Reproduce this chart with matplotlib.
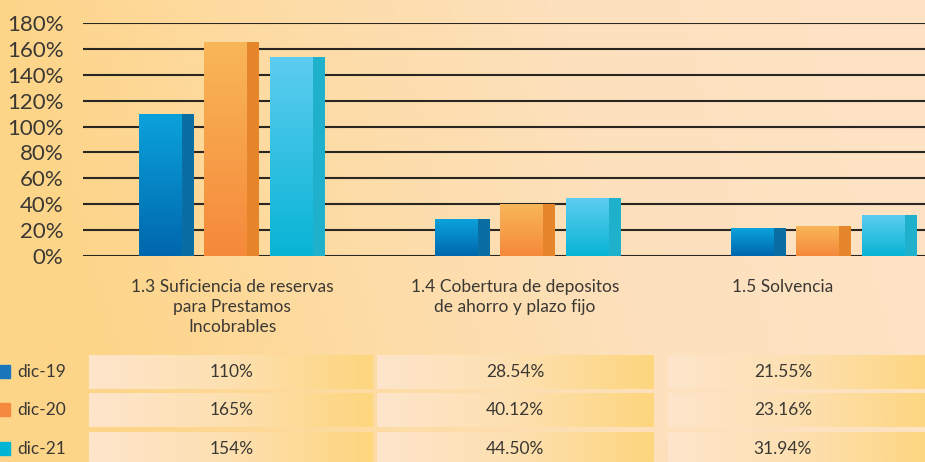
import matplotlib
matplotlib.use('Agg')
import matplotlib.pyplot as plt
import numpy as np
from matplotlib.colors import LinearSegmentedColormap

# ── Data ──────────────────────────────────────────────────────────────────────
CATEGORIES = ["1.3 Suficiencia de reservas\npara Prestamos\nIncobrables",
              "1.4 Cobertura de depositos\nde ahorro y plazo fijo",
              "1.5 Solvencia"]
SERIES = ["dic-19", "dic-20", "dic-21"]
DIC19 = [110.0, 28.54, 21.55]
DIC20 = [165.0, 40.12, 23.16]
DIC21 = [154.0, 44.50, 31.94]
TABLE_TXT = [["110%", "28.54%", "21.55%"],
             ["165%", "40.12%", "23.16%"],
             ["154%", "44.50%", "31.94%"]]
YTICKS = list(range(0, 181, 20))

# ── Styles ────────────────────────────────────────────────────────────────────
FONT = ['Lato', 'DejaVu Sans']
TXT = '#3b3834'
FRONT_TOP = ['#0ba2dc', '#f9b658', '#5dcdf0']
FRONT_BOT = ['#0067ad', '#f5893b', '#08b4d5']
SIDE = ['#0b6ea3', '#e5862b', '#1fb0cc']
LEGEND_COL = ['#1b75bb', '#f58a3f', '#00b5d4']

W, H = 925, 462
fig = plt.figure(figsize=(W / 100, H / 100), dpi=100)

# background + table layer, pixel coordinates
bg = fig.add_axes([0, 0, 1, 1], zorder=0)
bg.set_xlim(0, W)
bg.set_ylim(H, 0)
bg.axis('off')

yy, xx = np.mgrid[0:1:200j, 0:1:300j]
t = np.clip(1.1 * xx - 0.15 * yy, 0, 1)
bg_cmap = LinearSegmentedColormap.from_list('bg', ['#fdd589', '#fddca6', '#fde1bd', '#fde3c4'])
bg.imshow(t, extent=(0, W, H, 0), cmap=bg_cmap, aspect='auto', zorder=0)

# ── Bars ──────────────────────────────────────────────────────────────────────
ax = fig.add_axes([83 / W, (H - 256) / H, (W - 83) / W, 233 / H], zorder=1)
ax.patch.set_alpha(0)
ax.set_xlim(-0.189, 2.655)
ax.set_ylim(0, 180)

x = np.arange(len(CATEGORIES))
front_w = 0.145
side_w = 0.041
offsets = [0.0, 0.2196, 0.4426]

for i, vals in enumerate([DIC19, DIC20, DIC21]):
    bars = ax.bar(x + offsets[i], vals, width=front_w, align='edge',
                  color=FRONT_BOT[i], linewidth=0, zorder=3)
    ax.bar(x + offsets[i] + front_w, vals, width=side_w, align='edge',
           color=SIDE[i], linewidth=0, zorder=3)
    cmap = LinearSegmentedColormap.from_list(f'b{i}', [FRONT_BOT[i], FRONT_TOP[i]])
    grad = np.linspace(0, 1, 100).reshape(-1, 1)
    for b in bars:
        im = ax.imshow(grad, extent=(b.get_x(), b.get_x() + b.get_width(), 0, b.get_height()),
                       origin='lower', cmap=cmap, aspect='auto', zorder=3.5)
        im.set_clip_path(b)

ax.set_yticks(YTICKS)
ax.set_yticklabels([f"{v}%" for v in YTICKS], fontsize=16, color=TXT, family=FONT)
ax.tick_params(axis='y', length=0, pad=14)
ax.set_xticks([])
ax.grid(axis='y', color='#2a2622', linewidth=1.5, zorder=1)
for s in ax.spines.values():
    s.set_visible(False)

# ── Category labels ───────────────────────────────────────────────────────────
col_cx = [232, 515, 783]
for cx, lab in zip(col_cx, CATEGORIES):
    bg.text(cx, 279, lab, ha='center', va='top', fontsize=12.5, color=TXT,
            family=FONT, linespacing=1.3)

# ── Table ─────────────────────────────────────────────────────────────────────
col_x = [(89, 373), (377, 654), (668, 935)]
row_y = [(355, 389), (393, 427), (432, 466)]
cell_cmap = LinearSegmentedColormap.from_list('cell', ['#fde5cb', '#fde0b0', '#fdd67e'])
hgrad = np.linspace(0, 1, 100).reshape(1, -1)
for r, (y0, y1) in enumerate(row_y):
    yc = (y0 + y1) / 2
    bg.add_patch(plt.Rectangle((0, yc - 7), 10, 13, color=LEGEND_COL[r], zorder=2))
    bg.text(17, yc, SERIES[r], ha='left', va='center', fontsize=12.5,
            color=TXT, family=FONT)
    for c, (x0, x1) in enumerate(col_x):
        bg.imshow(hgrad, extent=(x0, x1, y1, y0), cmap=cell_cmap, aspect='auto', zorder=1)
        bg.text(col_cx[c], yc, TABLE_TXT[r][c], ha='center', va='center',
                fontsize=12.5, color=TXT, family=FONT, zorder=3)

bg.set_xlim(0, W)
bg.set_ylim(H, 0)

fig.savefig('out.png', dpi=100)
